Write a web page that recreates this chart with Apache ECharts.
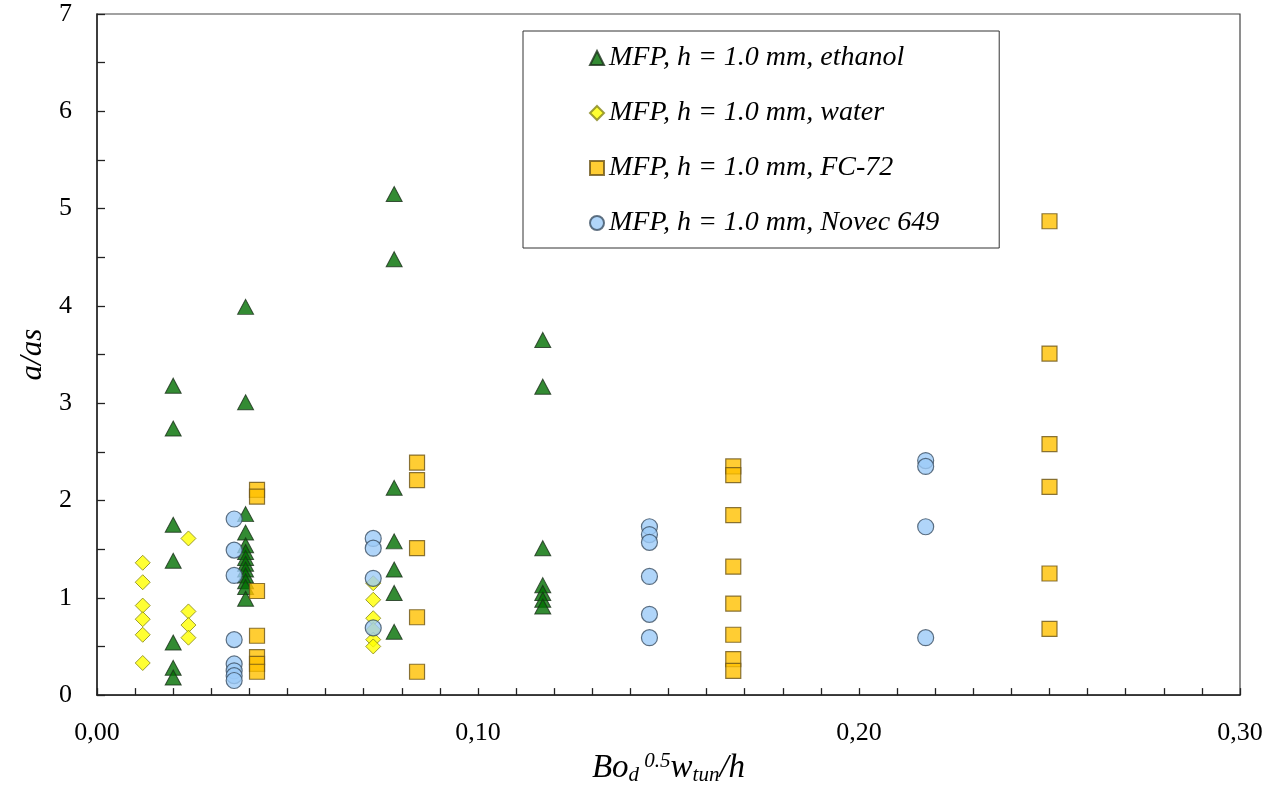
<!DOCTYPE html>
<html>
<head>
<meta charset="utf-8">
<title>a/as vs Bo</title>
<script src="https://cdn.jsdelivr.net/npm/echarts@6/dist/echarts.min.js"></script>
<style>
  html, body { margin: 0; padding: 0; width: 100%; height: 100%; overflow: hidden; background: #fff; }
  #main { width: 100%; height: 100%; }
</style>
</head>
<body>
<div id="main"></div>
<script>
var seriesNames = [
  "MFP, h = 1.0 mm, ethanol",
  "MFP, h = 1.0 mm, water",
  "MFP, h = 1.0 mm, FC-72",
  "MFP, h = 1.0 mm, Novec 649"
];

// [x, y] pairs
var ethanol = [
  [0.020, 3.18], [0.020, 2.74], [0.020, 1.75], [0.020, 1.38], [0.020, 0.54], [0.020, 0.28], [0.020, 0.18],
  [0.039, 3.99], [0.039, 3.01], [0.039, 1.86], [0.039, 1.67], [0.039, 1.54], [0.039, 1.47], [0.039, 1.41],
  [0.039, 1.35], [0.039, 1.29], [0.039, 1.23], [0.039, 1.17], [0.039, 1.11], [0.039, 0.99],
  [0.078, 5.15], [0.078, 4.48], [0.078, 2.13], [0.078, 1.58], [0.078, 1.29], [0.078, 1.05], [0.078, 0.65],
  [0.117, 3.65], [0.117, 3.17], [0.117, 1.51], [0.117, 1.13], [0.117, 1.05], [0.117, 0.98], [0.117, 0.91]
];
var water = [
  [0.012, 1.36], [0.012, 1.16], [0.012, 0.92], [0.012, 0.78], [0.012, 0.62], [0.012, 0.33],
  [0.024, 1.61], [0.024, 0.86], [0.024, 0.72], [0.024, 0.59],
  [0.0725, 1.15], [0.0725, 0.98], [0.0725, 0.79], [0.0725, 0.67], [0.0725, 0.57], [0.0725, 0.50]
];
var fc72 = [
  [0.042, 2.11], [0.042, 2.04], [0.042, 1.07], [0.042, 0.61], [0.042, 0.39], [0.042, 0.32], [0.042, 0.24],
  [0.084, 2.39], [0.084, 2.21], [0.084, 1.51], [0.084, 0.80], [0.084, 0.24],
  [0.167, 2.35], [0.167, 2.26], [0.167, 1.85], [0.167, 1.32], [0.167, 0.94], [0.167, 0.62], [0.167, 0.37], [0.167, 0.25],
  [0.250, 4.87], [0.250, 3.51], [0.250, 2.58], [0.250, 2.14], [0.250, 1.25], [0.250, 0.68]
];
var novec = [
  [0.036, 1.81], [0.036, 1.49], [0.036, 1.23], [0.036, 0.57], [0.036, 0.32], [0.036, 0.25], [0.036, 0.20], [0.036, 0.15],
  [0.0725, 1.61], [0.0725, 1.51], [0.0725, 1.20], [0.0725, 0.69],
  [0.145, 1.73], [0.145, 1.65], [0.145, 1.57], [0.145, 1.22], [0.145, 0.83], [0.145, 0.59],
  [0.2175, 2.41], [0.2175, 2.35], [0.2175, 1.73], [0.2175, 0.59]
];

var serif = "'Liberation Serif', 'Times New Roman', serif";

var chartDom = document.getElementById('main');
var myChart = echarts.init(chartDom);

var option = {
  backgroundColor: '#fff',
  animation: false,
  grid: {
    left: 97,
    right: 36,
    top: 14,
    bottom: 84,
    show: true,
    borderColor: '#444',
    borderWidth: 1.2
  },
  legend: {
    orient: 'vertical',
    left: 523,
    top: 31,
    padding: [13, 60, 11, 66],
    itemWidth: 14,
    itemHeight: 14,
    itemGap: 27,
    backgroundColor: '#fff',
    borderColor: '#333',
    borderWidth: 1,
    textStyle: {
      fontFamily: serif,
      fontStyle: 'italic',
      fontSize: 28,
      lineHeight: 28,
      color: '#000'
    },
    data: seriesNames
  },
  xAxis: {
    type: 'value',
    min: 0,
    max: 0.3,
    interval: 0.01,
    splitLine: { show: false },
    axisLine: { lineStyle: { color: '#222', width: 1.5 } },
    axisTick: { inside: true, length: 7, lineStyle: { color: '#222', width: 1.3 } },
    axisLabel: {
      fontFamily: serif,
      fontSize: 26,
      color: '#000',
      margin: 25,
      formatter: function (v) {
        if (Math.abs(v * 10 - Math.round(v * 10)) > 1e-6) return '';
        return v.toFixed(2).replace('.', ',');
      }
    },
    name: '{b|Bo}{sub|d}{sup| 0.5}{b|w}{sub|tun}{b|/h}',
    nameLocation: 'middle',
    nameGap: 49,
    nameTextStyle: {
      rich: {
        b: { fontFamily: serif, fontStyle: 'italic', fontSize: 33, color: '#000' },
        sub: { fontFamily: serif, fontStyle: 'italic', fontSize: 21, color: '#000', padding: [14, 0, 0, 0] },
        sup: { fontFamily: serif, fontStyle: 'italic', fontSize: 21, color: '#000', padding: [0, 0, 14, 0] }
      }
    }
  },
  yAxis: {
    type: 'value',
    min: 0,
    max: 7,
    interval: 0.5,
    splitLine: { show: false },
    axisLine: { lineStyle: { color: '#222', width: 1.5 } },
    axisTick: { inside: true, length: 8, lineStyle: { color: '#222', width: 1.3 } },
    axisLabel: {
      fontFamily: serif,
      fontSize: 26,
      color: '#000',
      margin: 25,
      formatter: function (v) {
        return Math.abs(v - Math.round(v)) < 1e-6 ? String(Math.round(v)) : '';
      }
    },
    name: 'a/as',
    nameLocation: 'middle',
    nameRotate: 90,
    nameGap: 40,
    nameTextStyle: {
      fontFamily: serif,
      fontStyle: 'italic',
      fontSize: 31,
      color: '#000'
    }
  },
  series: [
    {
      name: seriesNames[0],
      type: 'scatter',
      symbol: 'triangle',
      symbolSize: [16, 15],
      itemStyle: { color: '#006e00', borderColor: '#1a301a', borderWidth: 1 },
      data: ethanol
    },
    {
      name: seriesNames[1],
      type: 'scatter',
      symbol: 'diamond',
      symbolSize: 15,
      itemStyle: { color: '#ffff00', borderColor: '#85851a', borderWidth: 1 },
      data: water
    },
    {
      name: seriesNames[2],
      type: 'scatter',
      symbol: 'rect',
      symbolSize: 15,
      itemStyle: { color: '#ffc000', borderColor: '#6b5418', borderWidth: 1.2 },
      data: fc72
    },
    {
      name: seriesNames[3],
      type: 'scatter',
      symbol: 'circle',
      symbolSize: 16,
      itemStyle: { color: '#9ccbf7', borderColor: '#3b4f63', borderWidth: 1.2 },
      data: novec
    }
  ]
};

option && myChart.setOption(option);

window.addEventListener('resize', function () {
  myChart.resize();
});
</script>
</body>
</html>
